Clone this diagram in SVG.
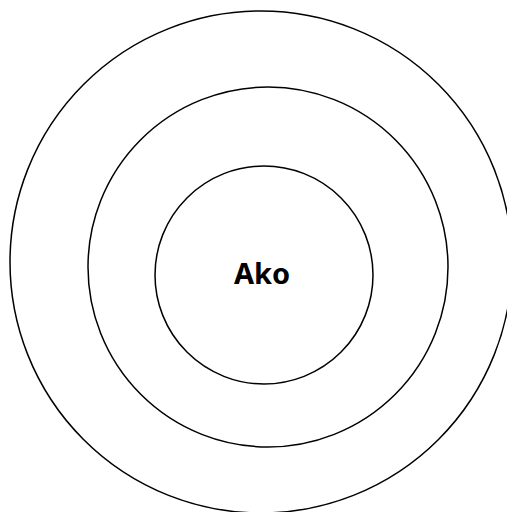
<svg xmlns="http://www.w3.org/2000/svg" width="507" height="512" viewBox="0 0 507 512">
<style>
.ring{fill:none;stroke:#000;stroke-width:1.5}
.lbl{font-family:"Noto Sans","Liberation Sans",sans-serif;font-weight:700;font-size:29px;fill:#000;text-anchor:middle}
</style>
<rect width="507" height="512" fill="#fff"/>
<g id="outer"><circle class="ring" cx="261" cy="262" r="251"/></g>
<g id="middle"><circle class="ring" cx="268" cy="267" r="180"/></g>
<g id="inner"><circle class="ring" cx="264" cy="275" r="109"/><text class="lbl" x="262" y="284">Ako</text></g>
<g id="connectors"/>
</svg>
